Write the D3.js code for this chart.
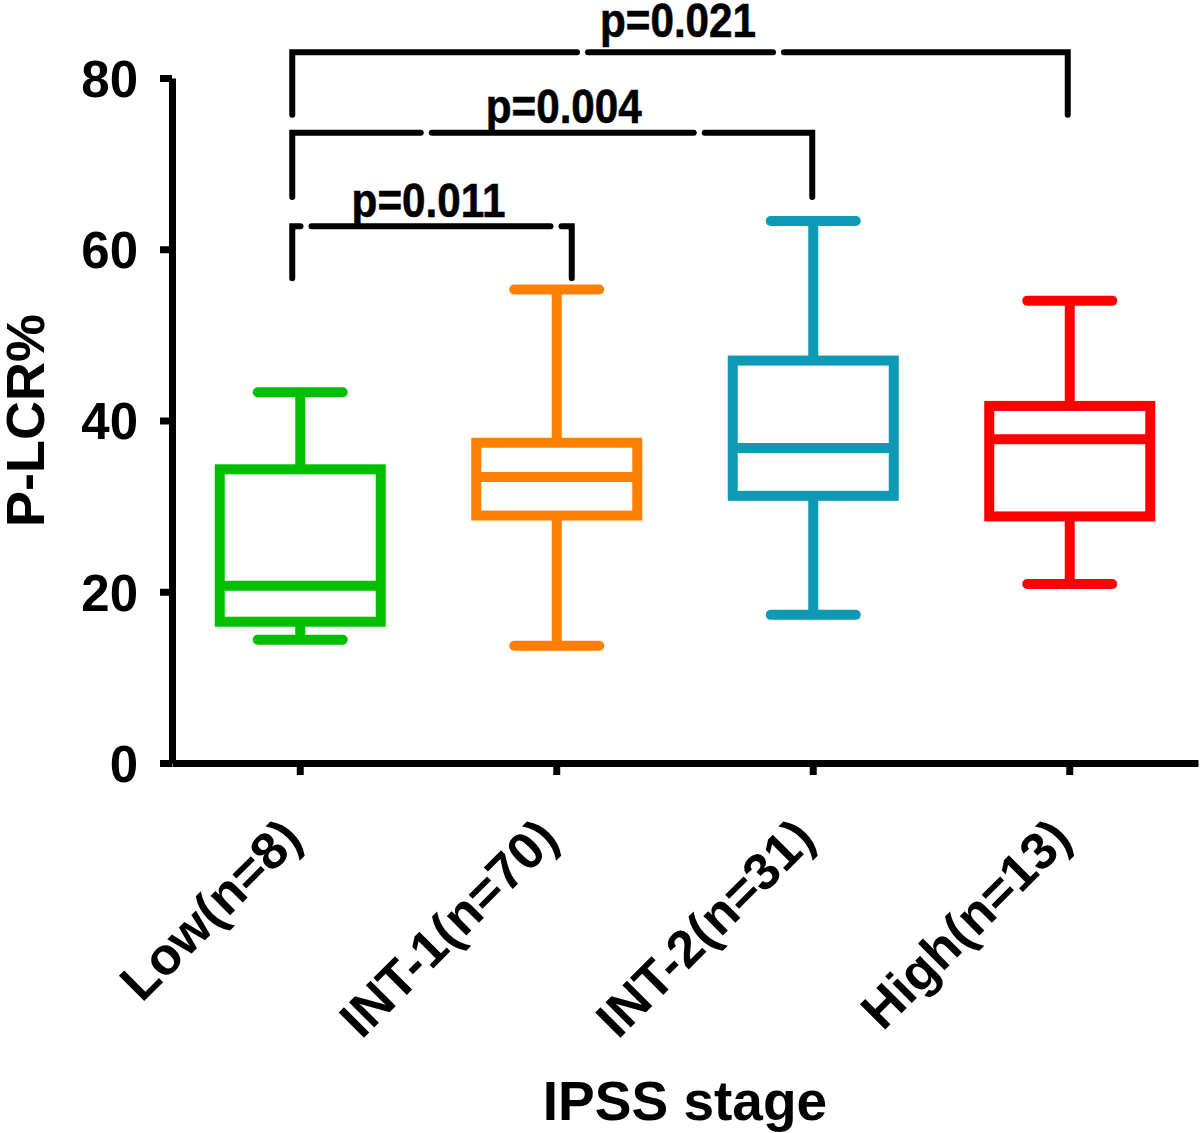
<!DOCTYPE html>
<html>
<head>
<meta charset="utf-8">
<script src="https://cdn.jsdelivr.net/npm/d3@7"></script>
<style>
  body { margin: 0; background: #fff; }
  text { font-family: "Liberation Sans", Arial, sans-serif; font-weight: bold; fill: #000; }
</style>
</head>
<body>
<svg id="chart" width="1200" height="1133"></svg>
<script>
// values
const groups = ['Low(n=8)', 'INT-1(n=70)', 'INT-2(n=31)', 'High(n=13)'];
const whiskerLow = [14.4, 13.7, 17.3, 20.9];
const q1 = [16.5, 28.9, 31.2, 28.8];
const medians = [20.7, 33.4, 36.8, 37.8];
const q3 = [34.3, 37.4, 47.0, 41.7];
const whiskerHigh = [43.3, 55.3, 63.3, 54.0];
const colors = ['#00bf00', '#ff8000', '#0e99b4', '#ff0000'];
const yTicks = [0, 20, 40, 60, 80];

// significance brackets
const cmpFrom = [0, 0, 0];
const cmpTo = [1, 2, 3];
const pLabels = ['p=0.011', 'p=0.004', 'p=0.021'];
const bracketLevel = [62.7, 73.6, 83.0];
const bracketDrop = [56.6, 66.1, 75.7];

var svg = d3.select('#chart');

var y = d3.scaleLinear().domain([0, 80]).range([763, 78]);
var x = d3.scaleBand().domain(groups).range([172, 1198]);
var cx = (d) => x(d) + x.bandwidth() / 2;

var boxHalf = 80.5, capHalf = 42.5;

// y axis
var yAxis = svg.append('g')
  .attr('transform', 'translate(172,0)')
  .call(d3.axisLeft(y).tickValues(yTicks).tickSize(12).tickSizeOuter(0).tickPadding(22));
yAxis.select('.domain').attr('stroke', '#000').attr('stroke-width', 7);
yAxis.selectAll('.tick line').attr('stroke', '#000').attr('stroke-width', 7);
yAxis.selectAll('.tick text')
  .style('font-size', '51px')
  .style('font-family', '"Liberation Sans", Arial, sans-serif')
  .style('font-weight', 'bold')
  .attr('fill', '#000')
  .attr('dy', '0.36em');

// x axis
var xAxis = svg.append('g')
  .attr('transform', 'translate(0,763)')
  .call(d3.axisBottom(x).tickSize(12).tickSizeOuter(0).tickFormat(''));
xAxis.select('.domain').attr('stroke', '#000').attr('stroke-width', 7);
xAxis.selectAll('.tick line').attr('stroke', '#000').attr('stroke-width', 7);

svg.selectAll('.xlabel')
  .data(groups)
  .join('text')
  .attr('class', 'xlabel')
  .attr('text-anchor', 'end')
  .attr('transform', (d) => 'translate(' + (cx(d) + 4) + ',841) rotate(-45)')
  .style('font-size', '52px')
  .text((d) => d);

// axis titles
svg.append('text')
  .attr('text-anchor', 'middle')
  .attr('x', 685).attr('y', 1120)
  .style('font-size', '55px')
  .text('IPSS stage');

svg.append('text')
  .attr('text-anchor', 'middle')
  .attr('transform', 'translate(44,' + y(40) + ') rotate(-90)')
  .style('font-size', '54px')
  .text('P-LCR%');

// boxes
var idx = d3.range(groups.length);
var box = svg.append('g').attr('fill', 'none').attr('stroke-width', 10);

box.selectAll('.whisk-up').data(idx).join('line')
  .attr('x1', (i) => cx(groups[i])).attr('x2', (i) => cx(groups[i]))
  .attr('y1', (i) => y(whiskerHigh[i])).attr('y2', (i) => y(q3[i]))
  .attr('stroke', (i) => colors[i]);

box.selectAll('.whisk-down').data(idx).join('line')
  .attr('x1', (i) => cx(groups[i])).attr('x2', (i) => cx(groups[i]))
  .attr('y1', (i) => y(q1[i])).attr('y2', (i) => y(whiskerLow[i]))
  .attr('stroke', (i) => colors[i]);

[whiskerHigh, whiskerLow].forEach(function(arr) {
  box.append('g').selectAll('line').data(idx).join('line')
    .attr('x1', (i) => cx(groups[i]) - capHalf).attr('x2', (i) => cx(groups[i]) + capHalf)
    .attr('y1', (i) => y(arr[i])).attr('y2', (i) => y(arr[i]))
    .attr('stroke', (i) => colors[i])
    .attr('stroke-linecap', 'round');
});

box.append('g').selectAll('rect').data(idx).join('rect')
  .attr('x', (i) => cx(groups[i]) - boxHalf)
  .attr('width', boxHalf * 2)
  .attr('y', (i) => y(q3[i]))
  .attr('height', (i) => y(q1[i]) - y(q3[i]))
  .attr('stroke', (i) => colors[i])
  .attr('fill', '#fff');

box.append('g').selectAll('line').data(idx).join('line')
  .attr('x1', (i) => cx(groups[i]) - boxHalf).attr('x2', (i) => cx(groups[i]) + boxHalf)
  .attr('y1', (i) => y(medians[i])).attr('y2', (i) => y(medians[i]))
  .attr('stroke', (i) => colors[i]);

// brackets (the source figure has small breaks in the lines near the labels)
var legOffset = [[-8, 15], [-8, -1], [-8, -2]];
var gapAt = [[-128, 122], [-143, 130], [-101, 95]];
var gapW = 11;
var labelShift = [0, 7, -7];
var labelLift = [9, 10, 15];

var br = svg.append('g')
  .attr('fill', 'none')
  .attr('stroke', '#000')
  .attr('stroke-width', 6)
  .attr('stroke-linecap', 'round');

pLabels.forEach(function(lab, k) {
  var xa = cx(groups[cmpFrom[k]]) + legOffset[k][0];
  var xb = cx(groups[cmpTo[k]]) + legOffset[k][1];
  var mid = (cx(groups[cmpFrom[k]]) + cx(groups[cmpTo[k]])) / 2 + labelShift[k];
  var yl = y(bracketLevel[k]), yd = y(bracketDrop[k]);
  var g1 = mid + gapAt[k][0], g2 = mid + gapAt[k][1];

  br.append('path').attr('stroke-linejoin', 'miter')
    .attr('d', 'M' + xa + ',' + yd + 'V' + yl + 'H' + g1);
  br.append('path')
    .attr('d', 'M' + (g1 + gapW) + ',' + yl + 'H' + g2);
  br.append('path').attr('stroke-linejoin', 'miter')
    .attr('d', 'M' + (g2 + gapW) + ',' + yl + 'H' + xb + 'V' + yd);

  svg.append('text')
    .attr('text-anchor', 'middle')
    .attr('transform', 'translate(' + mid + ',' + (yl - labelLift[k]) + ') scale(0.88,1)')
    .style('font-size', '48px')
    .style('stroke', '#000')
    .style('stroke-width', '0.6px')
    .text(lab);
});
</script>
</body>
</html>
